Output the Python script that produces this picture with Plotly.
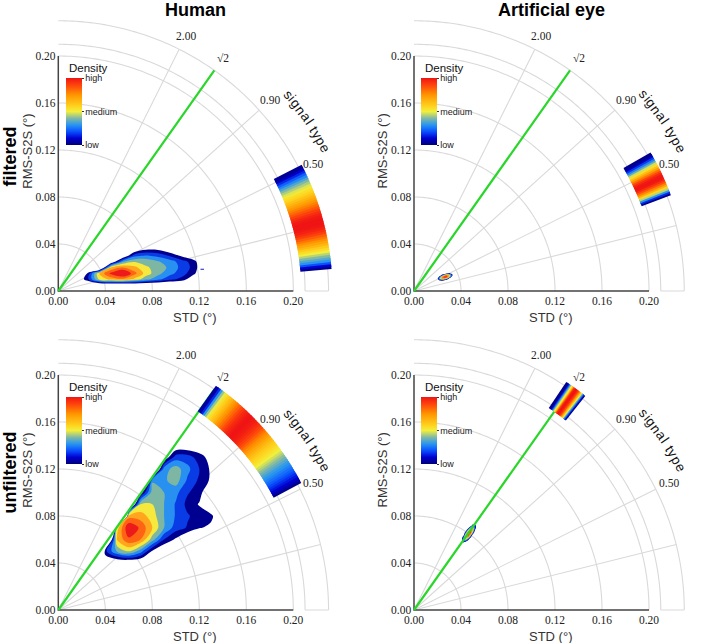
import numpy as np
import plotly.graph_objects as go

# ---------------- texts / ticks ----------------
col_titles = ["Human", "Artificial eye"]
row_titles = ["filtered", "unfiltered"]
x_title = "STD (°)"
y_title = "RMS-S2S (°)"
axis_tick_vals = [0.00, 0.04, 0.08, 0.12, 0.16, 0.20]
axis_tick_text = ["0.00", "0.04", "0.08", "0.12", "0.16", "0.20"]
grid_radii = [0.04, 0.08, 0.12, 0.16, 0.20]
ring_radii = [0.21, 0.23]
radial_ratio = [0.25, 0.50, 0.90, 2 ** 0.5, 2.00]
ring_tick_ratio = [0.00, 0.25, 0.50, 0.90, 2 ** 0.5, 2.00]
ring_tick_text = ["0.00", "0.25", "0.50", "0.90", "√2", "2.00"]
reference_ratio = 2 ** 0.5
ring_title = "signal type"
legend_title = "Density"
legend_vals = [0.0, 0.5, 1.0]
legend_text = ["low", "medium", "high"]

# ---------------- 2-D density levels ----------------
# Human, filtered
human_filt_x = [0.015, 0.025, 0.035, 0.045, 0.055, 0.065, 0.075, 0.085, 0.095, 0.105, 0.115, 0.125]
human_filt_y = [0.000, 0.005, 0.010, 0.015, 0.020, 0.025, 0.030, 0.035, 0.040]
human_filt_z = [
    [-1, -1, -1, -1, -1, -1, -1, -1, -1, -1, -1, -1],
    [-1, -1.5, -1.5, -1.5, -1.5, -1.5, -1.5, -1.5, -1.5, -1.5, -1, -1],
    [-1, 1.2, 4.8, 5.8, 6.2, 5.2, 3.8, 2.8, 1.8, 1.2, -0.5, -1],
    [-1, 0.6, 5.6, 7.8, 9.0, 6.8, 5.0, 3.8, 2.8, 2.0, 0.8, -1],
    [-1, -1, -3, 5.6, 6.6, 5.8, 4.6, 4.2, 3.2, 2.2, 1.2, -1],
    [-1, -1, -3, -1, 3.4, 4.4, 4.2, 3.6, 3.0, 2.0, 1.0, -1],
    [-1, -1, -2, -2, -1, 2.2, 2.6, 2.2, 1.4, 0.3, -0.5, -1],
    [-1, -1, -1, -1, -1, -0.5, 0.6, 0.5, -0.3, -1, -1, -1],
    [-1, -1, -1, -1, -1, -1, -1, -1, -1, -1, -1, -1],
]
human_filt_outlier_x = [0.1225]
human_filt_outlier_y = [0.0185]

# Artificial eye, filtered
eye_filt_x = [0.018, 0.020, 0.022, 0.024, 0.026, 0.028, 0.030, 0.032, 0.034, 0.036]
eye_filt_y = [0.0075, 0.009, 0.0105, 0.012, 0.0135, 0.015, 0.0165]
eye_filt_z = [
    [-2, -2, -2, -2, -2, -2, -2, -2, -2, -2],
    [-2, -1.6, 0.8, 1.0, -0.6, -2, -2, -2, -2, -2],
    [-2, 0.0, 4.3, 6.3, 6.1, 3.7, -0.9, -2, -2, -2],
    [-2, -2, 2.6, 6.6, 8.2, 7.7, 4.9, -0.2, -2, -2],
    [-2, -2, -1.5, 1.7, 5.2, 6.5, 5.6, 2.4, -2, -2],
    [-2, -2, -2, -2, -2, 0.25, 1.2, -0.2, -2, -2],
    [-2, -2, -2, -2, -2, -2, -2, -2, -2, -2],
]

# Human, unfiltered
human_unf_x = [0.03, 0.04, 0.05, 0.06, 0.07, 0.08, 0.09, 0.10, 0.11, 0.12, 0.13, 0.14]
human_unf_y = [0.04, 0.05, 0.06, 0.07, 0.08, 0.09, 0.10, 0.11, 0.12, 0.13, 0.14]
human_unf_z = [
    [-2, -1, -1, -1, -1, -2, -2, -2, -2, -2, -2, -2],
    [-8, 1.2, 3.6, 4.6, 3.0, 0.3, -1, -2, -2, -2, -2, -2],
    [-8, -6, 5.6, 7.3, 6.5, 4.0, 1.5, 0.3, -1, -2, -2, -2],
    [-8, -40, 5.0, 8.5, 7.3, 5.5, 3.5, 2.0, 1.4, 0.6, 0.2, -1],
    [-8, -8, -40, 6.0, 6.0, 5.0, 3.5, 2.4, 1.6, 1.1, 0.8, -1],
    [-8, -8, -8, -4, 4.5, 4.5, 3.5, 2.4, 1.2, 0.4, -1, -2],
    [-5, -5, -5, -5, 0.0, 4.0, 3.5, 2.8, 1.6, 1.0, -1, -2],
    [-5, -5, -5, -5, -10, 3.4, 3.3, 4.0, 2.3, 1.3, 0.3, -1],
    [-5, -5, -5, -5, -5, -4, 3.0, 4.0, 2.8, 1.5, 0.3, -1],
    [-5, -5, -5, -5, -5, -5, -0.5, 2.0, 2.0, 1.0, 0.0, -1],
    [-2, -2, -2, -2, -2, -2, -2, -0.5, -0.5, -0.5, -2, -2],
]

# Artificial eye, unfiltered
eye_unf_x = [0.040, 0.042, 0.044, 0.046, 0.048, 0.050, 0.052, 0.054]
eye_unf_y = [0.054, 0.056, 0.058, 0.060, 0.062, 0.064, 0.066, 0.068, 0.070, 0.072, 0.074, 0.076]
eye_unf_z = [
    [-2, -2, -2, -2, -2, -2, -2, -2],
    [-2, -2, -2, -2, -2, -2, -2, -2],
    [-2, 1.4, 0.3, -2, -2, -2, -2, -2],
    [-2, 3.1, 4.7, 1.75, -2, -2, -2, -2],
    [-2, 2.2, 6.5, 6.3, 1.5, -2, -2, -2],
    [-2, -1.5, 5.6, 8.1, 6.0, -0.6, -2, -2],
    [-2, -2, 2.1, 7.3, 7.9, 4.0, -2, -2],
    [-2, -2, -2, 3.8, 7.2, 5.9, 0.2, -2],
    [-2, -2, -2, -1.2, 3.7, 5.2, 2.1, -2],
    [-2, -2, -2, -2, -2, 1.85, 1.5, -2],
    [-2, -2, -2, -2, -2, -2, -2, -2],
    [-2, -2, -2, -2, -2, -2, -2, -2],
]

# ---------------- signal-type density along the outer ring ----------------
human_filt_band_deg = [5.0, 5.5, 6.0, 6.5, 7.0, 7.5, 8.0, 8.5, 9.0, 9.5, 10.0, 10.5, 11.0, 11.5,
                       12.0, 12.5, 13.0, 13.5, 14.0, 14.5, 15.0, 15.5, 16.0, 16.5, 17.0, 17.5,
                       18.0, 18.5, 19.0, 19.5, 20.0, 20.5, 21.0, 21.5, 22.0, 22.5, 23.0, 23.5,
                       24.0, 24.5, 25.0, 25.5, 26.0, 26.5, 27.0]
human_filt_band_den = [0.02, 0.10, 0.20, 0.30, 0.35, 0.40, 0.45, 0.50, 0.55, 0.60, 0.65, 0.70, 0.75,
                       0.80, 0.85, 0.90, 0.94, 0.97, 0.99, 1.0, 1.0, 1.0, 0.99, 0.97, 0.94, 0.90,
                       0.86, 0.82, 0.78, 0.74, 0.70, 0.66, 0.62, 0.58, 0.55, 0.52, 0.48, 0.44,
                       0.40, 0.34, 0.28, 0.22, 0.15, 0.09, 0.03]

eye_filt_band_deg = [20.8, 21.2, 21.6, 22.0, 22.4, 22.8, 23.2, 23.6, 24.0, 24.4, 24.8, 25.2,
                     25.6, 26.0, 26.4, 26.8, 27.2, 27.6, 28.0, 28.4, 28.8, 29.2, 29.6, 30.0]
eye_filt_band_den = [0.02, 0.15, 0.30, 0.45, 0.57, 0.68, 0.78, 0.87, 0.94, 0.99, 1.0, 0.99,
                     0.95, 0.89, 0.81, 0.72, 0.63, 0.55, 0.47, 0.37, 0.27, 0.17, 0.08, 0.02]

human_unf_band_deg = [28.0, 28.5, 29.0, 29.5, 30.0, 30.5, 31.0, 31.5, 32.0, 32.5, 33.0, 33.5,
                      34.0, 34.5, 35.0, 35.5, 36.0, 36.5, 37.0, 37.5, 38.0, 38.5, 39.0, 39.5,
                      40.0, 40.5, 41.0, 41.5, 42.0, 42.5, 43.0, 43.5, 44.0, 44.5, 45.0, 45.5,
                      46.0, 46.5, 47.0, 47.5, 48.0, 48.5, 49.0, 49.5, 50.0, 50.5, 51.0, 51.5,
                      52.0, 52.5, 53.0, 53.5, 54.0, 54.5]
human_unf_band_den = [0.02, 0.06, 0.10, 0.13, 0.16, 0.19, 0.22, 0.245, 0.27, 0.295, 0.32, 0.35,
                      0.38, 0.41, 0.44, 0.47, 0.50, 0.525, 0.55, 0.575, 0.60, 0.63, 0.66, 0.695,
                      0.73, 0.765, 0.80, 0.84, 0.88, 0.91, 0.94, 0.96, 0.98, 0.99, 1.0, 1.0,
                      0.99, 0.97, 0.95, 0.92, 0.88, 0.84, 0.80, 0.76, 0.72, 0.67, 0.63, 0.59,
                      0.55, 0.49, 0.42, 0.30, 0.15, 0.05]

eye_unf_band_deg = [51.6, 51.8, 52.0, 52.2, 52.4, 52.6, 52.8, 53.0, 53.2, 53.4, 53.6, 53.8,
                    54.0, 54.2, 54.4, 54.6, 54.8, 55.0, 55.2, 55.4, 55.6, 55.8, 56.0]
eye_unf_band_den = [0.02, 0.12, 0.25, 0.38, 0.50, 0.60, 0.70, 0.80, 0.88, 0.94, 0.98, 1.0,
                    1.0, 0.97, 0.90, 0.75, 0.58, 0.50, 0.42, 0.30, 0.18, 0.08, 0.02]

# ---------------- styling ----------------
W, H = 708, 643
S = 1175.0                      # px per data unit
XR = [-0.0015, 0.235]
YR = [-0.0015, 0.235]
R_BAND = 0.22
BAND_PX = 0.019 * S
SERIF = "Liberation Serif"
SANS = "Liberation Sans"
GRID_COLOR = "#d9d9d9"
GREEN = "#2ad62a"

cont_scale = [
    [0.00, "#00007a"], [0.10, "#0000d0"], [0.20, "#0a50ff"], [0.30, "#2896f0"],
    [0.40, "#82b9a5"], [0.50, "#f2ef3c"], [0.58, "#ffd21e"], [0.75, "#ff9400"],
    [0.88, "#ff4b0a"], [1.00, "#f01414"],
]
band_colors = ["rgba(255,255,255,0)", "#000090", "#0a3ce6", "#2890f0", "#7eb6a4",
               "#f6e83c", "#ffa51e", "#ff6414", "#ec1a1a"]
band_scale = [[k / 8, c] for k, c in enumerate(band_colors)]

panels = [
    dict(origin=(58.3, 291.0), x=human_filt_x, y=human_filt_y, z=human_filt_z,
         bdeg=human_filt_band_deg, bden=human_filt_band_den),
    dict(origin=(414.0, 291.0), x=eye_filt_x, y=eye_filt_y, z=eye_filt_z,
         bdeg=eye_filt_band_deg, bden=eye_filt_band_den),
    dict(origin=(58.3, 610.0), x=human_unf_x, y=human_unf_y, z=human_unf_z,
         bdeg=human_unf_band_deg, bden=human_unf_band_den),
    dict(origin=(414.0, 610.0), x=eye_unf_x, y=eye_unf_y, z=eye_unf_z,
         bdeg=eye_unf_band_deg, bden=eye_unf_band_den),
]


def px_x(p):
    return p / W


def px_y(p):
    return 1 - p / H


def poly_path(xs, ys):
    return "M " + " L ".join(f"{a:.5f},{b:.5f}" for a, b in zip(xs, ys))


traces = []
layout = dict(width=W, height=H, margin=dict(l=0, r=0, t=0, b=0, autoexpand=False),
              paper_bgcolor="white", plot_bgcolor="rgba(0,0,0,0)", showlegend=False)
annotations = []
shapes = []

char_w = {"s": 0.5, "i": 0.222, "g": 0.556, "n": 0.556, "a": 0.556, "l": 0.222, " ": 0.278,
          "t": 0.278, "y": 0.5, "p": 0.556, "e": 0.556}

arc_t = np.linspace(0, np.pi / 2, 121)

for i, p in enumerate(panels):
    sfx = "" if i == 0 else str(i + 1)
    xa, ya = "x" + sfx, "y" + sfx
    ox, oy = p["origin"]
    layout["xaxis" + sfx] = dict(
        domain=[px_x(ox + XR[0] * S), px_x(ox + XR[1] * S)], range=XR, anchor=ya,
        tickvals=axis_tick_vals, ticktext=axis_tick_text, showgrid=False, zeroline=False,
        showline=False, ticks="", automargin=False,
        tickfont=dict(family=SERIF, size=11.5, color="#222"), fixedrange=True)
    layout["yaxis" + sfx] = dict(
        domain=[px_y(oy - YR[0] * S), px_y(oy - YR[1] * S)], range=YR, anchor=xa,
        tickvals=axis_tick_vals, ticktext=axis_tick_text, showgrid=False, zeroline=False,
        showline=False, ticks="", automargin=False,
        tickfont=dict(family=SERIF, size=11.5, color="#222"), fixedrange=True)

    # grid (below the density): arcs + radial lines
    gline = dict(color=GRID_COLOR, width=1.1)
    for r in grid_radii + ring_radii:
        shapes.append(dict(type="path", xref=xa, yref=ya, layer="below", line=gline,
                           path=poly_path(r * np.cos(arc_t), r * np.sin(arc_t))))
    for q in radial_ratio:
        a = np.arctan(q)
        shapes.append(dict(type="line", xref=xa, yref=ya, layer="below", line=gline,
                           x0=0, y0=0, x1=ring_radii[1] * np.cos(a), y1=ring_radii[1] * np.sin(a)))
    shapes.append(dict(type="line", xref=xa, yref=ya, layer="below", line=gline,
                       x0=ring_radii[0], y0=0, x1=ring_radii[1], y1=0))

    # density contours
    traces.append(go.Contour(
        x=p["x"], y=p["y"], z=p["z"], xaxis=xa, yaxis=ya, autocontour=False,
        contours=dict(start=0.5, end=7.5, size=1, coloring="fill", showlines=False),
        line=dict(width=0, smoothing=1.0), colorscale=band_scale, showscale=False,
        hoverinfo="skip"))
    # axis lines
    traces.append(go.Scatter(x=[0.2, 0, 0], y=[0, 0, 0.2], mode="lines", xaxis=xa, yaxis=ya,
                             hoverinfo="skip", line=dict(color="#444", width=1.5)))
    if i == 0:
        traces.append(go.Scatter(x=human_filt_outlier_x, y=human_filt_outlier_y, mode="markers",
                                 xaxis=xa, yaxis=ya, hoverinfo="skip",
                                 marker=dict(symbol="line-ew", size=2.5,
                                             line=dict(width=1.2, color="#1020c0"))))
    # reference line sqrt(2)
    a = np.arctan(reference_ratio)
    traces.append(go.Scatter(x=[0, ring_radii[1] * np.cos(a)], y=[0, ring_radii[1] * np.sin(a)],
                             mode="lines", xaxis=xa, yaxis=ya, hoverinfo="skip",
                             line=dict(color=GREEN, width=2.2)))
    # signal-type band on the ring
    deg = np.array(p["bdeg"], dtype=float)
    th = np.deg2rad(deg)
    step = np.deg2rad(np.mean(np.diff(deg)))
    traces.append(go.Scatter(
        x=R_BAND * np.cos(th), y=R_BAND * np.sin(th), mode="markers", xaxis=xa, yaxis=ya,
        hoverinfo="skip",
        marker=dict(symbol="line-ew", size=BAND_PX, angle=list(-deg), color="rgba(0,0,0,0)",
                    line=dict(width=S * R_BAND * step + 1.6, color=p["bden"],
                              colorscale=cont_scale, cmin=0, cmax=1))))
    # density legend (colorbar)
    traces.append(go.Scatter(
        x=[0], y=[0], mode="markers", xaxis=xa, yaxis=ya, hoverinfo="skip",
        marker=dict(size=1, opacity=0, color=[0.5], colorscale=cont_scale, cmin=0, cmax=1,
                    showscale=True,
                    colorbar=dict(x=px_x(ox + 7.4), xanchor="left", y=px_y(oy - 179.3),
                                  yanchor="middle", len=66.7, lenmode="pixels", thickness=16,
                                  thicknessmode="pixels", xpad=0, ypad=0, outlinewidth=0,
                                  tickvals=legend_vals, ticktext=legend_text, ticks="outside",
                                  ticklen=2, tickwidth=1, tickcolor="#333",
                                  tickfont=dict(family=SANS, size=9, color="#222")))))
    annotations.append(dict(x=0.0075, y=0.1895, xref=xa, yref=ya, text=legend_title,
                            showarrow=False, xanchor="left", yanchor="middle",
                            font=dict(family=SANS, size=11.5, color="#111")))

    # ring tick labels
    for q, t in zip(ring_tick_ratio, ring_tick_text):
        a = np.arctan(q)
        annotations.append(dict(x=0.2425 * np.cos(a), y=0.2425 * np.sin(a), xref=xa, yref=ya,
                                text=t, showarrow=False, xanchor="center", yanchor="middle",
                                font=dict(family=SERIF, size=11.5, color="#222")))
    # "signal type" along the arc
    fs = 13.5
    widths = np.array([char_w[c] * fs + 0.8 for c in ring_title])
    centers = np.cumsum(widths) - widths / 2
    r_txt = 0.2575
    for c, s in zip(ring_title, centers):
        if c == " ":
            continue
        ang = 34.3 + np.rad2deg((widths.sum() / 2 - s) / (r_txt * S))
        annotations.append(dict(x=r_txt * np.cos(np.deg2rad(ang)), y=r_txt * np.sin(np.deg2rad(ang)),
                                xref=xa, yref=ya, text=c, showarrow=False, textangle=90 - ang,
                                xanchor="center", yanchor="middle",
                                font=dict(family=SANS, size=fs, color="#111")))
    # axis titles
    annotations.append(dict(x=px_x(ox + 136), y=px_y(oy + 26.7), xref="paper", yref="paper",
                            text=x_title, showarrow=False, xanchor="center", yanchor="middle",
                            font=dict(family=SANS, size=13, color="#333")))
    annotations.append(dict(x=px_x(ox - 31.6), y=px_y(oy - 140), xref="paper", yref="paper",
                            text=y_title, showarrow=False, xanchor="center", yanchor="middle",
                            textangle=-90, font=dict(family=SANS, size=13, color="#333")))

# column and row titles
for c, t in enumerate(col_titles):
    annotations.append(dict(x=px_x([195.0, 551.0][c]), y=px_y(10.5), xref="paper", yref="paper",
                            text="<b>" + t + "</b>", showarrow=False, xanchor="center",
                            yanchor="middle", font=dict(family=SANS, size=18, color="#000")))
for r, t in enumerate(row_titles):
    annotations.append(dict(x=px_x(9.5), y=px_y([157.0, 473.0][r]), xref="paper", yref="paper",
                            text="<b>" + t + "</b>", showarrow=False, xanchor="center",
                            yanchor="middle", textangle=-90,
                            font=dict(family=SANS, size=18, color="#000")))

layout["annotations"] = annotations
layout["shapes"] = shapes
fig = go.Figure(data=traces)
fig.update_layout(**layout)
fig.write_html("out.html", config={"displayModeBar": False},
               post_script="document.body.style.margin='0px';")
